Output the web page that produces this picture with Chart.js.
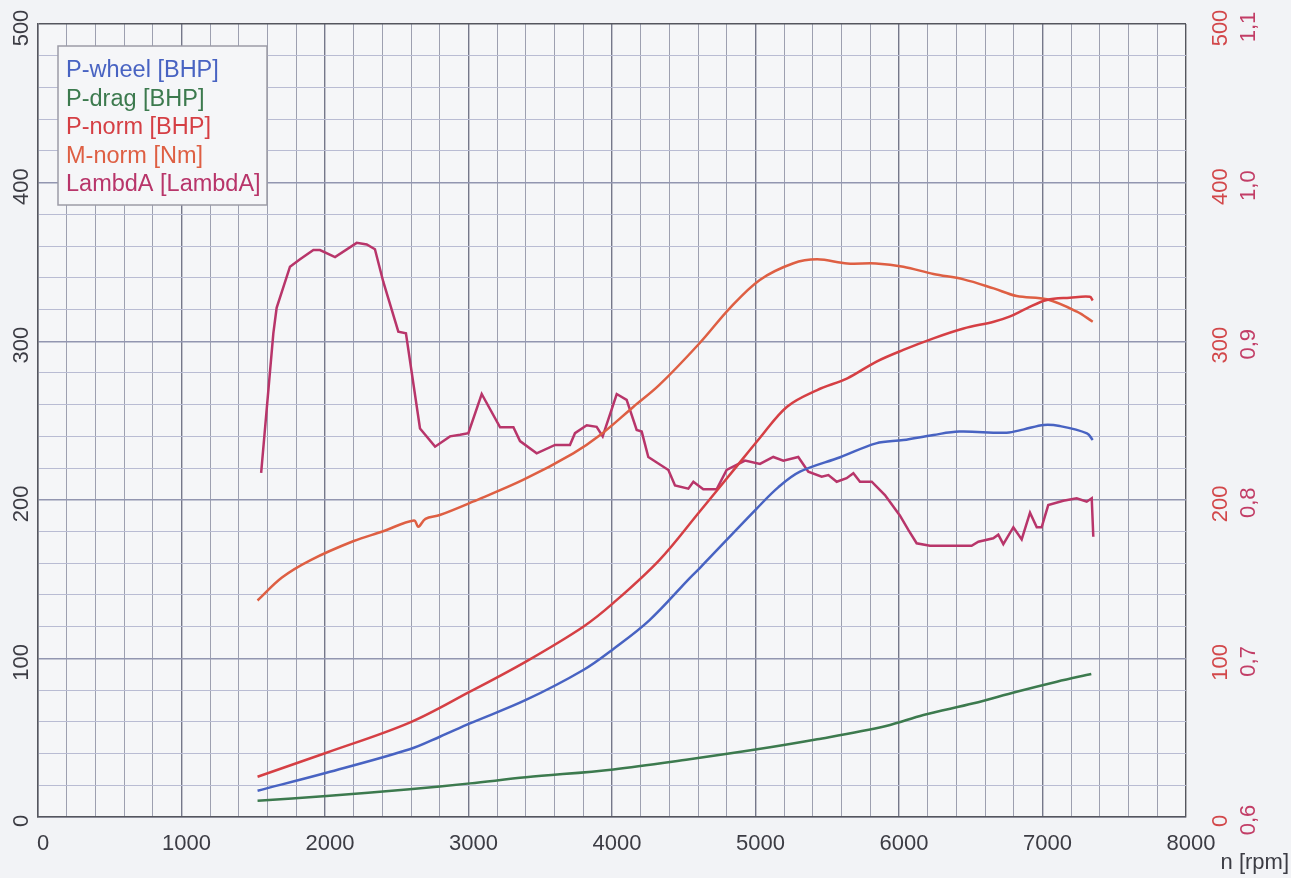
<!DOCTYPE html>
<html>
<head>
<meta charset="utf-8">
<title>Dyno</title>
<script src="https://cdn.jsdelivr.net/npm/chart.js@4.4.1/dist/chart.umd.min.js"></script>
<style>
  html, body { margin:0; padding:0; background:#f2f3f6; }
  #wrap { width:1291px; height:878px; }
</style>
</head>
<body>
<div id="wrap"><canvas id="c" width="1291" height="878"></canvas></div>
<script>
// --- data ---
const wheelRpm = [1530, 2010, 2590, 2800, 3010, 3400, 3800, 4010, 4260, 4540, 4610, 5010, 5160, 5310, 5590, 5840, 6030, 6240, 6420, 6750, 6870, 7010, 7120, 7310, 7350];
const wheelBhp = [16.6, 27.9, 42.7, 50.6, 59, 73.8, 92.7, 106, 124, 150.5, 156.8, 194.6, 208, 217.7, 226.8, 235.6, 237.7, 240.9, 243, 242.3, 244.4, 247.2, 246.5, 241.9, 237.7];

const dragRpm = [1530, 2010, 2590, 3010, 3400, 4010, 4540, 5000, 5430, 5910, 6170, 6520, 6820, 7100, 7340];
const dragBhp = [10.3, 13.2, 17.5, 21.2, 25, 30, 36.4, 42.5, 49, 57.4, 64.3, 71.7, 79, 85.3, 90.2];

const normRpm = [1530, 2010, 2590, 3010, 3400, 3800, 4010, 4330, 4610, 4850, 5030, 5220, 5430, 5640, 5840, 6030, 6240, 6450, 6660, 6770, 6890, 7030, 7190, 7330, 7350];
const normBhp = [25.4, 40.5, 59.5, 79, 98, 120, 135, 162, 192.5, 219, 239, 258.7, 269.2, 276.6, 287, 294.5, 301.8, 308, 312.3, 315.5, 320.7, 326, 327.4, 328, 325.6];

const torqueRpm = [1530, 1700, 1900, 2200, 2400, 2620, 2650, 2700, 2800, 3030, 3380, 3730, 3920, 4150, 4330, 4610, 4820, 5030, 5260, 5430, 5640, 5840, 6030, 6240, 6450, 6660, 6820, 7030, 7240, 7350];
const torqueNm = [136.5, 151, 162, 174, 180, 187, 183, 188, 190.4, 198.8, 212.5, 229.3, 241, 258.7, 272.4, 298.7, 320.7, 338.6, 349, 351.6, 349, 349, 347, 342.4, 339, 333.3, 328.5, 326.4, 318.6, 312.3];

const lambdaRpm = [1555, 1640, 1663, 1756, 1826, 1919, 1965, 2070, 2221, 2291, 2348, 2406, 2511, 2564, 2662, 2767, 2871, 2941, 2999, 3092, 3220, 3313, 3359, 3475, 3603, 3707, 3742, 3824, 3893, 3935, 4033, 4102, 4172, 4207, 4253, 4393, 4439, 4532, 4567, 4636, 4729, 4799, 4927, 5031, 5124, 5194, 5298, 5368, 5461, 5508, 5566, 5635, 5682, 5728, 5810, 5902, 6007, 6065, 6123, 6216, 6506, 6553, 6657, 6692, 6727, 6797, 6855, 6913, 6960, 6994, 7040, 7145, 7238, 7308, 7343, 7354];
const lambdaVal = [0.817, 0.905, 0.921, 0.947, 0.9516, 0.9575, 0.9575, 0.953, 0.962, 0.961, 0.958, 0.9375, 0.906, 0.905, 0.845, 0.8335, 0.840, 0.841, 0.842, 0.8667, 0.8457, 0.8457, 0.837, 0.8293, 0.8346, 0.8346, 0.842, 0.847, 0.846, 0.840, 0.8667, 0.863, 0.844, 0.843, 0.827, 0.8188, 0.809, 0.807, 0.8114, 0.8066, 0.8066, 0.8188, 0.8247, 0.8226, 0.827, 0.8247, 0.827, 0.8177, 0.8146, 0.8156, 0.8114, 0.8136, 0.8167, 0.8114, 0.8114, 0.803, 0.790, 0.781, 0.7726, 0.771, 0.771, 0.7736, 0.7757, 0.778, 0.772, 0.7827, 0.775, 0.7919, 0.7827, 0.7827, 0.7967, 0.7994, 0.801, 0.7988, 0.801, 0.7767];

const powerTicks = [0, 100, 200, 300, 400, 500];
const lambdaTicks = [0.6, 0.7, 0.8, 0.9, 1.0, 1.1];

const pts = (xs, ys) => xs.map((x, i) => ({ x, y: ys[i] }));

const FONT = '"Liberation Sans", Arial, sans-serif';
const PAPER = '#f5f6f8';

// paper fill behind the grid
const paperBg = {
  id: 'paperBg',
  beforeDraw(chart){
    const { ctx, chartArea:a } = chart;
    ctx.save();
    ctx.fillStyle = PAPER;
    ctx.fillRect(a.left, a.top, a.right - a.left, a.bottom - a.top);
    ctx.restore();
  }
};

// rotated axis labels, legend box, axis title
const sheetText = {
  id: 'sheetText',
  afterDraw(chart){
    const { ctx, scales } = chart;
    const rot = (txt, x, y, color) => {
      ctx.save();
      ctx.translate(x, y);
      ctx.rotate(-Math.PI / 2);
      ctx.fillStyle = color;
      ctx.textAlign = 'center';
      ctx.textBaseline = 'middle';
      ctx.fillText(txt, 0, 0);
      ctx.restore();
    };
    ctx.save();
    ctx.font = '22px ' + FONT;
    powerTicks.forEach(v => {
      rot(String(v), 22, scales.y.getPixelForValue(v) + 4, '#3c3c44');
      rot(String(v), 1221, scales.y2.getPixelForValue(v) + 4, '#d2474a');
    });
    lambdaTicks.forEach(v => {
      rot(v.toFixed(1).replace('.', ','), 1249, scales.y3.getPixelForValue(v) + 3, '#c23d66');
    });

    // axis title
    ctx.fillStyle = '#3c3c44';
    ctx.textAlign = 'right';
    ctx.textBaseline = 'middle';
    ctx.fillText('n [rpm]', 1289, 863);

    // legend box in the plot
    ctx.fillStyle = PAPER;
    ctx.fillRect(58, 46, 209, 159);
    ctx.strokeStyle = '#9c9ca6';
    ctx.lineWidth = 1.5;
    ctx.strokeRect(58, 46, 209, 159);
    ctx.font = '23.5px ' + FONT;
    ctx.textAlign = 'left';
    chart.data.datasets.forEach((ds, i) => {
      ctx.fillStyle = ds.borderColor;
      ctx.fillText(ds.label, 66, 71 + i * 28.5);
    });
    ctx.restore();
  }
};

new Chart(document.getElementById('c'), {
  type: 'line',
  data: {
    datasets: [
      { label: 'P-wheel [BHP]', data: pts(wheelRpm, wheelBhp), borderColor: '#4863c2', yAxisID: 'y', tension: 0.35 },
      { label: 'P-drag [BHP]', data: pts(dragRpm, dragBhp), borderColor: '#3c7a4e', yAxisID: 'y', tension: 0.35 },
      { label: 'P-norm [BHP]', data: pts(normRpm, normBhp), borderColor: '#d53f44', yAxisID: 'y', tension: 0.35 },
      { label: 'M-norm [Nm]', data: pts(torqueRpm, torqueNm), borderColor: '#de5f43', yAxisID: 'y2', tension: 0.35 },
      { label: 'LambdA [LambdA]', data: pts(lambdaRpm, lambdaVal), borderColor: '#b8356a', yAxisID: 'y3', tension: 0 }
    ]
  },
  options: {
    responsive: false,
    animation: false,
    devicePixelRatio: 1,
    layout: { padding: { top: 24, right: 105, left: 0, bottom: 0 } },
    elements: { point: { radius: 0 }, line: { borderWidth: 2.5, fill: false } },
    plugins: { legend: { display: false }, tooltip: { enabled: false } },
    scales: {
      x: {
        type: 'linear', min: 0, max: 8000,
        afterFit: s => { s.height = 61; },
        ticks: {
          stepSize: 200, autoSkip: false, maxRotation: 0, padding: 14, labelOffset: 5,
          color: '#3c3c44', font: { family: FONT, size: 22 },
          callback: v => v % 1000 === 0 ? String(v) : ''
        },
        grid: {
          drawTicks: false,
          color: c => c.tick.value === 8000 ? '#55565e' : (c.tick.value % 1000 === 0 ? '#75788a' : '#9da0b0'),
          lineWidth: c => c.tick.value % 1000 === 0 ? 1.4 : 1
        },
        border: { color: '#55565e', width: 1.5 }
      },
      y: {
        min: 0, max: 500, position: 'left',
        afterFit: s => { s.width = 38; },
        ticks: { stepSize: 20, display: false },
        grid: {
          drawTicks: false,
          color: c => c.tick.value === 500 ? '#55565e' : (c.tick.value % 100 === 0 ? '#9296b0' : '#b9bcd3'),
          lineWidth: c => c.tick.value % 100 === 0 ? 1.4 : 1
        },
        border: { color: '#55565e', width: 1.5 }
      },
      y2: { min: 0, max: 500, display: false },
      y3: { min: 0.6, max: 1.1, display: false }
    }
  },
  plugins: [paperBg, sheetText]
});
</script>
</body>
</html>
